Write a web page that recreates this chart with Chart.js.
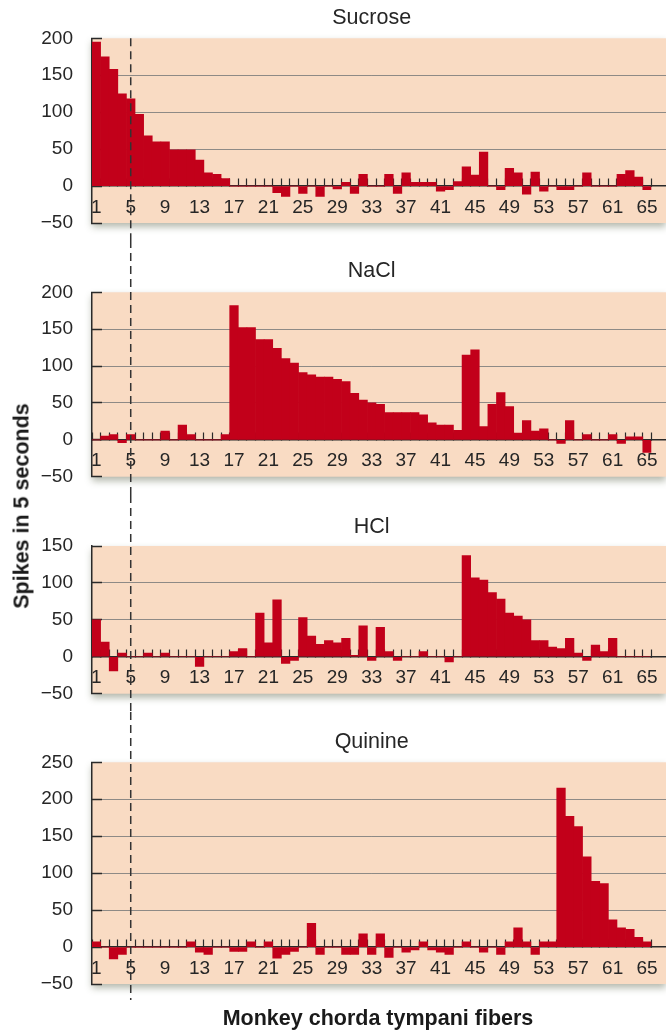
<!DOCTYPE html>
<html>
<head>
<meta charset="utf-8">
<script src="https://cdn.jsdelivr.net/npm/chart.js@4.4.1/dist/chart.umd.min.js"></script>
<style>
  html, body { margin: 0; padding: 0; background: #fff; }
  #wrap { position: relative; width: 666px; height: 1031px; background: #fff; overflow: hidden; }
  canvas { position: absolute; left: 0; }
  .axt { position: absolute; font-family: 'Liberation Sans', Arial, Helvetica, sans-serif; font-weight: bold; font-size: 21.5px; color: #1a1a1a; white-space: nowrap; }
  #ytitle { left: 22px; top: 506px; transform: translate(-50%, -50%) rotate(-90deg); }
  #xtitle { left: 378px; top: 1018px; transform: translate(-50%, -50%); }
</style>
</head>
<body>
<div id="wrap">
  <canvas id="c1" width="666" height="240" style="top:0px"></canvas>
  <canvas id="c2" width="666" height="255" style="top:240px"></canvas>
  <canvas id="c3" width="666" height="217" style="top:495px"></canvas>
  <canvas id="c4" width="666" height="319" style="top:712px"></canvas>
  <div id="ytitle" class="axt">Spikes in 5 seconds</div>
  <div id="xtitle" class="axt">Monkey chorda tympani fibers</div>
</div>
<script>
// ---------------- DATA ----------------
const fibers = [1,2,3,4,5,6,7,8,9,10,11,12,13,14,15,16,17,18,19,20,21,22,23,24,25,26,27,28,29,30,31,32,33,34,35,36,37,38,39,40,41,42,43,44,45,46,47,48,49,50,51,52,53,54,55,56,57,58,59,60,61,62,63,64,65];
const tickLabels = ['1','5','9','13','17','21','25','29','33','37','41','45','49','53','57','61','65'];

const sucrose = [195,175,158,125,118,97,68,60,60,49,49,49,35,18,16,10,0,0,0,0,0,-9,-14,0,-10,0,-14,0,-4,5,-10,16,0,0,16,-10,18,5,5,5,-7,-5,6,26,15,46,0,-5,24,18,-11,19,-7,0,-5,-5,0,18,0,0,0,16,21,12,-5];
const nacl = [0,5,7,-4,7,0,0,0,12,0,20,7,0,0,0,7,182,152,152,136,136,124,110,104,91,88,85,85,82,79,63,54,50,48,37,37,37,37,34,23,20,20,13,115,122,18,48,64,45,9,26,12,15,0,-5,26,0,7,0,0,7,-5,4,4,-17];
const hcl = [50,20,-19,5,0,0,5,0,5,0,0,0,-13,0,0,0,7,11,0,59,19,77,-9,-5,53,28,17,22,19,25,2,42,-5,40,7,-5,0,0,7,0,0,-7,0,137,107,104,87,78,59,55,50,22,22,13,11,25,5,-5,16,7,25,0,0,0,0];
const quinine = [7,0,-16,-10,0,0,0,0,0,0,0,7,-7,-10,0,0,-6,-6,7,0,7,-15,-10,-6,0,32,-10,0,0,-10,-10,18,-10,18,-14,0,-7,-4,7,-4,-7,-10,0,7,0,-7,0,-10,7,26,7,-10,7,7,215,177,163,122,89,86,37,26,24,13,7];

const panelTitles = ['Sucrose', 'NaCl', 'HCl', 'Quinine'];
const yMins = [-50, -50, -50, -50];
const yMaxs = [200, 200, 150, 250];
const markedFiber = 5;

// ---------------- STYLE ----------------
const FONT = "'Liberation Sans', Arial, Helvetica, sans-serif";
const BAR = '#c2001a';
const PEACH = '#f9dbc3';
const GRID = '#8e8a86';
const AXIS = '#2a2a2a';
const TEXT = '#262626';

function alignPx(p, w) { return Math.round(p - w / 2) + w / 2; }

const panelPlugin = {
  id: 'panel',
  beforeDraw(chart) {
    const { ctx, chartArea: a, width } = chart;
    ctx.save();
    ctx.shadowColor = 'rgba(70,80,50,0.40)';
    ctx.shadowBlur = 7;
    ctx.shadowOffsetY = 4;
    ctx.fillStyle = PEACH;
    ctx.fillRect(a.left, a.top, width - a.left, a.bottom - a.top);
    ctx.restore();
  },
  beforeDatasetsDraw(chart) {
    const { ctx, chartArea: a, width, scales: { y } } = chart;
    ctx.save();
    ctx.strokeStyle = GRID;
    ctx.lineWidth = 1;
    y.ticks.forEach(t => {
      if (t.value > y.min && t.value < y.max && t.value !== 0) {
        const py = alignPx(y.getPixelForValue(t.value), 1);
        ctx.beginPath(); ctx.moveTo(a.right - 1, py); ctx.lineTo(width, py); ctx.stroke();
      }
    });
    ctx.restore();
  },
  afterDraw(chart, args, opts) {
    const { ctx, chartArea: a, width, height, scales: { x, y } } = chart;
    ctx.save();
    const y0 = alignPx(y.getPixelForValue(0), 1.5);
    ctx.strokeStyle = AXIS;
    ctx.lineWidth = 1.5;
    ctx.beginPath(); ctx.moveTo(a.right - 1, y0); ctx.lineTo(width, y0); ctx.stroke();
    const px = x.getPixelForValue(fibers.indexOf(markedFiber));
    ctx.setLineDash([8, 5]);
    ctx.strokeStyle = '#333';
    ctx.lineWidth = 1.5;
    const top = opts.dashFromArea ? a.top : 0;
    const bottom = opts.dashBottom != null ? opts.dashBottom : height;
    ctx.beginPath(); ctx.moveTo(px, top); ctx.lineTo(px, bottom); ctx.stroke();
    ctx.restore();
  }
};

function makePanel(id, title, values, yMin, yMax, titlePad, padBottom, extra) {
  const ctx = document.getElementById(id).getContext('2d');
  return new Chart(ctx, {
    type: 'bar',
    data: {
      labels: fibers.map(String),
      datasets: [{
        data: values,
        backgroundColor: BAR,
        borderWidth: 0,
        barPercentage: 1,
        categoryPercentage: 1
      }]
    },
    options: {
      responsive: false,
      animation: false,
      devicePixelRatio: 1,
      layout: { padding: { left: 0, right: 14.6, top: 0, bottom: padBottom } },
      plugins: {
        legend: { display: false },
        tooltip: { enabled: false },
        title: {
          display: true,
          text: title,
          fullSize: false,
          color: TEXT,
          font: { family: FONT, size: 21.5, weight: 'normal' },
          padding: titlePad
        },
        panel: extra
      },
      scales: {
        x: {
          type: 'category',
          position: { y: 0 },
          offset: true,
          z: 1,
          afterFit: s => { s.height = 0; s.paddingLeft = 0; s.paddingRight = 0; s.paddingTop = 0; s.paddingBottom = 0; },
          grid: { offset: true, drawOnChartArea: false, drawTicks: true, tickLength: -8, tickColor: AXIS, tickWidth: 1.2 },
          border: { display: true, color: AXIS, width: 1.5 },
          ticks: {
            autoSkip: false, maxRotation: 0, minRotation: 0, padding: 18,
            color: TEXT, font: { family: FONT, size: 19 },
            callback: function (val) {
              const lab = this.getLabelForValue(val);
              return tickLabels.includes(lab) ? lab : '';
            }
          }
        },
        y: {
          min: yMin, max: yMax,
          afterFit: s => { s.width = 92; s.paddingTop = 0; s.paddingBottom = 0; },
          grid: {
            color: c => (c.tick && c.tick.value > yMin && c.tick.value < yMax && c.tick.value !== 0) ? GRID : 'rgba(0,0,0,0)',
            lineWidth: 1,
            drawTicks: true, tickLength: -10, tickColor: AXIS, tickWidth: 1.5
          },
          border: { display: true, color: AXIS, width: 1.5 },
          ticks: {
            stepSize: 50, padding: 29, color: TEXT,
            font: { family: FONT, size: 19 },
            callback: v => (v < 0 ? '\u2212' + Math.abs(v) : String(v))
          }
        }
      }
    },
    plugins: [panelPlugin]
  });
}

const seriesList = [sucrose, nacl, hcl, quinine];
const titlePads = [
  { top: 5.1, bottom: 7.4 },
  { top: 18.6, bottom: 7.9 },
  { top: 19.6, bottom: 5.6 },
  { top: 17.6, bottom: 6.9 }
];
const padBottoms = [17, 18.3, 18.3, 47];
const extras = [
  { dashFromArea: true },
  {},
  {},
  { dashBottom: 288 }
];
['c1', 'c2', 'c3', 'c4'].forEach((id, i) => {
  makePanel(id, panelTitles[i], seriesList[i], yMins[i], yMaxs[i], titlePads[i], padBottoms[i], extras[i]);
});
</script>
</body>
</html>
